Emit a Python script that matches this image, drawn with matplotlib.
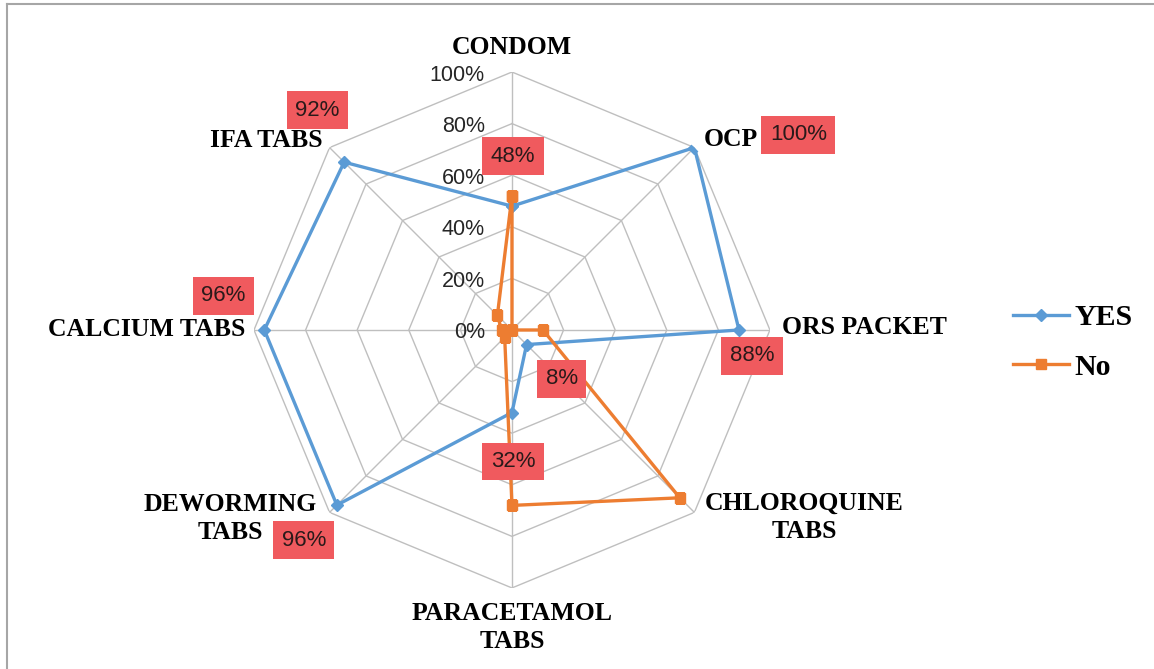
import numpy as np
import matplotlib.pyplot as plt
from matplotlib.lines import Line2D

categories = ['CONDOM', 'OCP', 'ORS PACKET', 'CHLOROQUINE\nTABS', 'PARACETAMOL\nTABS',
              'DEWORMING\nTABS', 'CALCIUM TABS', 'IFA TABS']
yes_vals = [48, 100, 88, 8, 32, 96, 96, 92]
no_vals = [52, 0, 12, 92, 68, 4, 4, 8]
ring_vals = [0, 20, 40, 60, 80, 100]
ring_labels = ['0%', '20%', '40%', '60%', '80%', '100%']

BLUE = '#5B9BD5'
ORANGE = '#ED7D31'
GRID = '#BFBFBF'
LABEL_BG = '#F05A5E'
SERIF = 'Liberation Serif'
SANS = 'Liberation Sans'

fig = plt.figure(figsize=(11.54, 6.69), dpi=100)
ax = fig.add_axes([0.2201, 0.1211, 0.4471, 0.7713], projection='polar')
ax.set_theta_zero_location('N')
ax.set_theta_direction(-1)
ax.set_ylim(0, 100)
ax.axis('off')

n = len(categories)
theta = np.arange(n) * 2 * np.pi / n
theta_closed = np.append(theta, theta[0])

# octagon grid
for r in ring_vals[1:]:
    ax.plot(theta_closed, [r] * (n + 1), color=GRID, lw=1.0, zorder=1)
for t in theta:
    ax.plot([t, t], [0, 100], color=GRID, lw=1.0, zorder=1)

# radial tick labels
for r, lab in zip(ring_vals, ring_labels):
    ax.annotate(lab, xy=(0, r), xytext=(-27, -3), textcoords='offset pixels',
                ha='right', va='center', fontsize=15.5, family=SANS, color='#262626')

# series
ax.plot(theta_closed, yes_vals + yes_vals[:1], color=BLUE, lw=2.4, marker='D',
        markersize=6, label='YES', zorder=3)
ax.plot(theta_closed, no_vals + no_vals[:1], color=ORANGE, lw=2.4, marker='s',
        markersize=7.5, label='No', zorder=4)

# category labels (offsets in pixels from the outer vertex)
cat_pos = [((0, 25), 'center', 'center'),
           ((9, 8), 'left', 'center'),
           ((12, 2), 'left', 'center'),
           ((110, -5), 'center', 'center'),
           ((0, -14), 'center', 'top'),
           ((-99, -6), 'center', 'center'),
           ((-9, 0), 'right', 'center'),
           ((-7, 7), 'right', 'center')]
for t, cat, (off, ha, va) in zip(theta, categories, cat_pos):
    ax.annotate(cat, xy=(t, 100), xytext=off, textcoords='offset pixels',
                ha=ha, va=va, ma='center', fontsize=18.5, family=SERIF,
                fontweight='bold', linespacing=1.3, color='black')

# data labels for YES series
lab_off = [(1, 50), (104, 13), (13, -26), (35, -34), (1, -49), (-33, -35), (-41, 34), (-27, 52)]
for t, v, off in zip(theta, yes_vals, lab_off):
    ax.annotate(f'{v}%', xy=(t, v), xytext=off, textcoords='offset pixels',
                ha='center', va='center', fontsize=16, family=SANS, color='#2A1A1A',
                bbox=dict(boxstyle='square,pad=0.38', fc=LABEL_BG, ec='none'), zorder=5)

leg = fig.legend(loc='center left', bbox_to_anchor=(0.878, 0.488), frameon=False,
                 borderaxespad=0, borderpad=0,
                 handlelength=1.86, labelspacing=0.75, handletextpad=0.2,
                 prop={'family': SERIF, 'weight': 'bold', 'size': 21.5})

# outer chart frame
fig.add_artist(Line2D([7 / 1154, 7 / 1154], [0, 1 - 4 / 669], color='#A6A6A6', lw=1.5))
fig.add_artist(Line2D([7 / 1154, 1], [1 - 4 / 669, 1 - 4 / 669], color='#A6A6A6', lw=1.5))

fig.savefig('out.png', dpi=100)
